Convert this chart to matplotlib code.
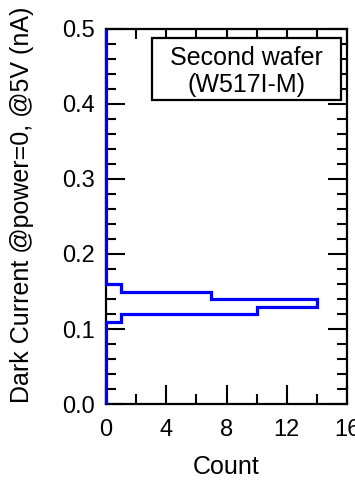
import matplotlib
matplotlib.use("Agg")
import matplotlib.pyplot as plt
from matplotlib.patches import Rectangle
from matplotlib.ticker import MultipleLocator, FormatStrFormatter

# histogram of dark current (bin edges in nA, counts per bin)
bin_edges = [0.0, 0.11, 0.12, 0.13, 0.14, 0.15, 0.16, 0.5]
counts = [0, 1, 10, 14, 7, 1, 0]
label_lines = ["Second wafer", "(W517I-M)"]

plt.rcParams['font.family'] = ['Liberation Sans', 'DejaVu Sans']

fig = plt.figure(figsize=(3.55, 4.87), dpi=100)
ax = fig.add_axes([0.2986, 0.1704, 0.6789, 0.7701])

ax.stairs(counts, bin_edges, orientation='horizontal', color='#0000ff',
          linewidth=2.3, baseline=0, zorder=5, clip_on=False)

ax.set_xlim(0, 16)
ax.set_ylim(0, 0.5)
ax.xaxis.set_major_locator(MultipleLocator(4))
ax.xaxis.set_minor_locator(MultipleLocator(2))
ax.yaxis.set_major_locator(MultipleLocator(0.1))
ax.yaxis.set_minor_locator(MultipleLocator(0.02))
ax.yaxis.set_major_formatter(FormatStrFormatter('%.1f'))

ax.tick_params(which='both', direction='in', top=True, right=True,
               width=1.5, color='black', labelsize=17)
ax.tick_params(which='major', length=14, pad=8)
ax.tick_params(axis='x', which='major', pad=11)
ax.tick_params(which='minor', length=7)
for s in ax.spines.values():
    s.set_linewidth(1.6)

ax.set_xlabel("Count", fontsize=18)
ax.set_ylabel("Dark Current @power=0, @5V (nA)", fontsize=18)
ax.xaxis.set_label_coords(0.498, -0.135)
ax.yaxis.set_label_coords(-0.30, 0.53)

ax.add_patch(Rectangle((0.191, 0.811), 0.784, 0.165, transform=ax.transAxes,
                       fill=True, facecolor='white', edgecolor='black',
                       linewidth=1.6, zorder=6))
ax.text(0.581, 0.887, "\n".join(label_lines), transform=ax.transAxes,
        ha='center', va='center', fontsize=18, linespacing=1.15, zorder=7)

fig.savefig("out.png", dpi=100)
